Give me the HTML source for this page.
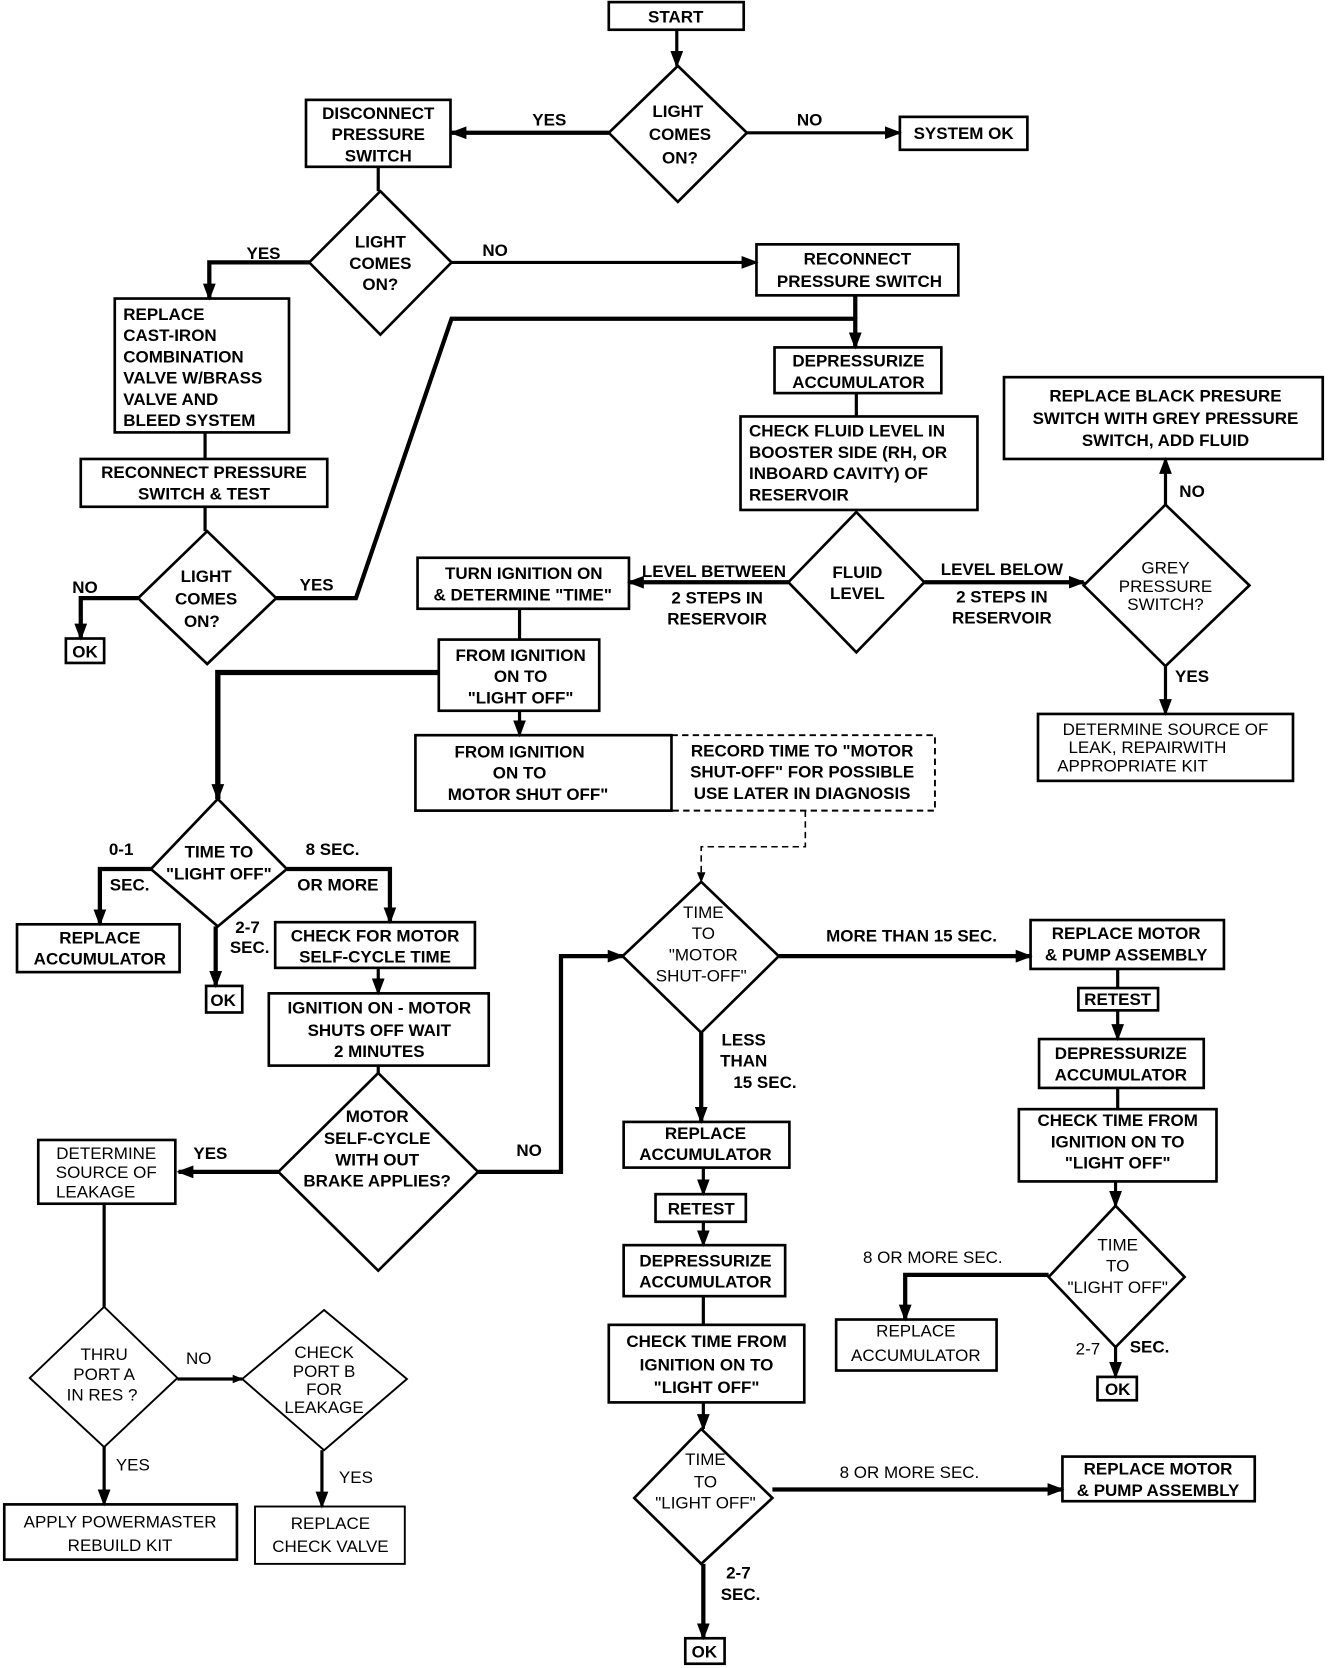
<!DOCTYPE html>
<html><head><meta charset="utf-8"><style>
html,body{margin:0;padding:0;background:#fff;}
svg{display:block;}
text{font-family:"Liberation Sans",sans-serif;font-weight:bold;font-size:16px;fill:#000;text-anchor:middle;}
.l{text-anchor:start;}
.n{font-weight:normal;}
</style></head><body>
<svg width="1344" height="1668" viewBox="0 0 1265 1570" xmlns="http://www.w3.org/2000/svg">
<defs>
<marker id="a" markerWidth="10" markerHeight="10" refX="9" refY="5" orient="auto" markerUnits="userSpaceOnUse" viewBox="0 0 10 10">
<path d="M0,1 L10,5 L0,9 Z" fill="#000"/></marker>
<marker id="b" markerWidth="16" markerHeight="16" refX="14" refY="8" orient="auto" markerUnits="userSpaceOnUse" viewBox="0 0 16 16">
<path d="M0,2 L16,8 L0,14 Z" fill="#000"/></marker>
</defs>
<g fill="none" stroke="#000" stroke-width="2.5">
<!-- boxes -->
<rect x="573" y="2" width="127" height="26"/>
<rect x="847" y="110" width="120" height="31"/>
<rect x="288" y="94" width="136" height="63"/>
<rect x="712" y="230" width="190" height="48"/>
<rect x="108" y="281" width="164" height="126"/>
<rect x="76" y="432" width="232" height="45"/>
<rect x="62" y="601" width="36" height="23"/>
<rect x="729" y="327" width="157" height="43"/>
<rect x="697" y="392" width="223" height="88"/>
<rect x="945" y="355" width="300" height="77"/>
<rect x="977" y="672" width="240" height="63"/>
<rect x="393" y="525" width="199" height="48"/>
<rect x="413" y="602" width="151" height="67"/>
<rect x="391" y="692" width="241" height="71"/>
<rect x="632" y="692" width="248" height="71" stroke-dasharray="6,4" stroke-width="1.8"/>
<rect x="16" y="870" width="153" height="45"/>
<rect x="194" y="928" width="34" height="25"/>
<rect x="259" y="868" width="188" height="43"/>
<rect x="253" y="935" width="207" height="68"/>
<rect x="36" y="1073" width="129" height="60"/>
<rect x="970" y="866" width="182" height="46"/>
<rect x="1015" y="930" width="75" height="21"/>
<rect x="978" y="978" width="155" height="46"/>
<rect x="959" y="1044" width="186" height="68"/>
<rect x="787" y="1242" width="151" height="48"/>
<rect x="1033" y="1296" width="37" height="22"/>
<rect x="587" y="1056" width="156" height="43"/>
<rect x="617" y="1124" width="85" height="26"/>
<rect x="587" y="1172" width="152" height="48"/>
<rect x="573" y="1247" width="184" height="73"/>
<rect x="1000" y="1371" width="181" height="42"/>
<rect x="645" y="1542" width="37" height="24"/>
<rect x="4" y="1416" width="219" height="52"/>
<rect x="240" y="1418" width="141" height="54" stroke-width="1.8"/>
<!-- diamonds -->
<path d="M638,62 L703,125 L638,190 L573,125 Z"/>
<path d="M358,180 L425,247 L358,315 L291,247 Z"/>
<path d="M195,500 L260,563 L195,625 L130,563 Z"/>
<path d="M806,482 L870,548 L806,614 L742,548 Z"/>
<path d="M1097,475 L1176,551 L1097,627 L1020,551 Z"/>
<path d="M205,752 L270,818 L205,872 L142,818 Z"/>
<path d="M356,1010 L450,1103 L356,1196 L262,1103 Z"/>
<path d="M660,830 L733,900 L660,972 L586,900 Z"/>
<path d="M1050,1135 L1115,1202 L1050,1268 L987,1202 Z"/>
<path d="M660,1345 L727,1410 L660,1472 L597,1410 Z"/>
<path d="M98,1230 L167,1297 L98,1362 L28,1297 Z" stroke-width="1.8"/>
<path d="M305,1233 L383,1298 L305,1365 L228,1298 Z" stroke-width="1.8"/>
</g>
<!-- connectors -->
<g fill="none" stroke="#000" stroke-width="3">
<path d="M637,28 V62" marker-end="url(#b)"/>
<path d="M573,125 H425" stroke-width="4" marker-end="url(#b)"/>
<path d="M703,125 H847" marker-end="url(#b)"/>
<path d="M356,157 V180"/>
<path d="M291,247 H197 V281" stroke-width="4" marker-end="url(#b)"/>
<path d="M425,247 H712" marker-end="url(#b)"/>
<path d="M193,407 V432"/>
<path d="M193,477 V500"/>
<path d="M130,563 H76 V601" stroke-width="4" marker-end="url(#b)"/>
<path d="M260,563 H335 L425,300 H805 V327" stroke-width="4" marker-end="url(#b)"/>
<path d="M805,278 V300" stroke-width="4"/>
<path d="M806,370 V392"/>
<path d="M742,548 H592" stroke-width="4" marker-end="url(#b)"/>
<path d="M870,548 H1020" stroke-width="4" marker-end="url(#b)"/>
<path d="M1097,475 V432" marker-end="url(#b)"/>
<path d="M1097,627 V672" marker-end="url(#b)"/>
<path d="M489,573 V602"/>
<path d="M489,669 V692" marker-end="url(#b)"/>
<path d="M413,633 H205 V752" stroke-width="5" marker-end="url(#b)"/>
<path d="M142,818 H94 V870" stroke-width="4" marker-end="url(#b)"/>
<path d="M203,872 V928" stroke-width="4" marker-end="url(#b)"/>
<path d="M270,818 H367 V868" stroke-width="4" marker-end="url(#b)"/>
<path d="M356,911 V935" marker-end="url(#b)"/>
<path d="M356,1003 V1010"/>
<path d="M262,1103 H168" stroke-width="4" marker-end="url(#b)"/>
<path d="M450,1103 H528 V900 H586" stroke-width="4" marker-end="url(#b)"/>
<path d="M758,763 V797 H660 V830" stroke-width="1.5" stroke-dasharray="6,4" marker-end="url(#a)"/>
<path d="M733,900 H970" stroke-width="4" marker-end="url(#b)"/>
<path d="M1052,912 V930"/>
<path d="M1052,951 V978" marker-end="url(#b)"/>
<path d="M1052,1024 V1044"/>
<path d="M1050,1112 V1135" marker-end="url(#b)"/>
<path d="M987,1200 H852 V1242" stroke-width="4" marker-end="url(#b)"/>
<path d="M1050,1268 V1296" marker-end="url(#b)"/>
<path d="M660,972 V1056" stroke-width="4" marker-end="url(#b)"/>
<path d="M662,1099 V1124" marker-end="url(#b)"/>
<path d="M662,1150 V1172" marker-end="url(#b)"/>
<path d="M662,1220 V1247"/>
<path d="M662,1320 V1345" marker-end="url(#b)"/>
<path d="M727,1402 H1000" stroke-width="4" marker-end="url(#b)"/>
<path d="M662,1472 V1542" stroke-width="4" marker-end="url(#b)"/>
<path d="M98,1133 V1230"/>
<path d="M167,1298 H228" marker-end="url(#a)"/>
<path d="M98,1362 V1416" marker-end="url(#b)"/>
<path d="M303,1365 V1418" marker-end="url(#b)"/>
</g>
<!-- text -->
<text x="636" y="21">START</text>
<text x="907" y="131">SYSTEM OK</text>
<text x="638" y="110">LIGHT</text><text x="640" y="132">COMES</text><text x="640" y="154">ON?</text>
<text x="517" y="118">YES</text><text x="762" y="118">NO</text>
<text x="356" y="112">DISCONNECT</text><text x="356" y="132">PRESSURE</text><text x="356" y="152">SWITCH</text>
<text x="358" y="233">LIGHT</text><text x="358" y="253">COMES</text><text x="358" y="273">ON?</text>
<text x="248" y="244">YES</text><text x="466" y="241">NO</text>
<text x="807" y="249">RECONNECT</text><text x="809" y="270">PRESSURE SWITCH</text>
<text class="l" x="116" y="301">REPLACE</text><text class="l" x="116" y="321">CAST-IRON</text><text class="l" x="116" y="341">COMBINATION</text><text class="l" x="116" y="361">VALVE W/BRASS</text><text class="l" x="116" y="381">VALVE AND</text><text class="l" x="116" y="401">BLEED SYSTEM</text>
<text x="192" y="450">RECONNECT PRESSURE</text><text x="192" y="470">SWITCH &amp; TEST</text>
<text x="194" y="548">LIGHT</text><text x="194" y="569">COMES</text><text x="190" y="590">ON?</text>
<text x="80" y="558">NO</text><text x="298" y="556">YES</text>
<text x="80" y="619">OK</text>
<text x="808" y="345">DEPRESSURIZE</text><text x="808" y="365">ACCUMULATOR</text>
<text class="l" x="705" y="411">CHECK FLUID LEVEL IN</text><text class="l" x="705" y="431">BOOSTER SIDE (RH, OR</text><text class="l" x="705" y="451">INBOARD CAVITY) OF</text><text class="l" x="705" y="471">RESERVOIR</text>
<text x="1097" y="378">REPLACE BLACK PRESURE</text><text x="1097" y="399">SWITCH WITH GREY PRESSURE</text><text x="1097" y="420">SWITCH, ADD FLUID</text>
<text x="1122" y="468">NO</text>
<text x="807" y="544">FLUID</text><text x="807" y="564">LEVEL</text>
<text x="672" y="543">LEVEL BETWEEN</text><text x="675" y="568">2 STEPS IN</text><text x="675" y="588">RESERVOIR</text>
<text x="943" y="541">LEVEL BELOW</text><text x="943" y="567">2 STEPS IN</text><text x="943" y="587">RESERVOIR</text>
<text x="1097" y="540" class="n">GREY</text><text x="1097" y="557" class="n">PRESSURE</text><text x="1097" y="574" class="n">SWITCH?</text>
<text x="1122" y="642">YES</text>
<text x="1097" y="692" class="n">DETERMINE SOURCE OF</text><text x="1080" y="709" class="n">LEAK, REPAIRWITH</text><text x="1066" y="726" class="n">APPROPRIATE KIT</text>
<text x="493" y="545">TURN IGNITION ON</text><text x="492" y="565">&amp; DETERMINE "TIME"</text>
<text x="490" y="622">FROM IGNITION</text><text x="490" y="642">ON TO</text><text x="490" y="662">"LIGHT OFF"</text>
<text x="489" y="713">FROM IGNITION</text><text x="489" y="733">ON TO</text><text x="497" y="753">MOTOR SHUT OFF"</text>
<text x="755" y="712">RECORD TIME TO "MOTOR</text><text x="755" y="732">SHUT-OFF" FOR POSSIBLE</text><text x="755" y="752">USE LATER IN DIAGNOSIS</text>
<text x="206" y="807">TIME TO</text><text x="206" y="828">"LIGHT OFF"</text>
<text x="114" y="805">0-1</text><text x="122" y="838">SEC.</text>
<text x="313" y="805">8 SEC.</text><text x="318" y="838">OR MORE</text>
<text x="233" y="878">2-7</text><text x="235" y="897">SEC.</text>
<text x="94" y="888">REPLACE</text><text x="94" y="908">ACCUMULATOR</text>
<text x="210" y="947">OK</text>
<text x="353" y="886">CHECK FOR MOTOR</text><text x="353" y="906">SELF-CYCLE TIME</text>
<text x="357" y="954">IGNITION ON - MOTOR</text><text x="357" y="975">SHUTS OFF WAIT</text><text x="357" y="995">2 MINUTES</text>
<text x="355" y="1056">MOTOR</text><text x="355" y="1077">SELF-CYCLE</text><text x="355" y="1097">WITH OUT</text><text x="355" y="1117">BRAKE APPLIES?</text>
<text x="198" y="1091">YES</text><text x="498" y="1088">NO</text>
<text x="100" y="1091" class="n">DETERMINE</text><text x="100" y="1109" class="n">SOURCE OF</text><text x="90" y="1127" class="n">LEAKAGE</text>
<text x="662" y="864" class="n">TIME</text><text x="662" y="884" class="n">TO</text><text x="662" y="904" class="n">"MOTOR</text><text x="660" y="924" class="n">SHUT-OFF"</text>
<text x="858" y="886">MORE THAN 15 SEC.</text>
<text x="700" y="984">LESS</text><text x="700" y="1004">THAN</text><text x="720" y="1024">15 SEC.</text>
<text x="1060" y="884">REPLACE MOTOR</text><text x="1060" y="904">&amp; PUMP ASSEMBLY</text>
<text x="1052" y="946">RETEST</text>
<text x="1055" y="997">DEPRESSURIZE</text><text x="1055" y="1017">ACCUMULATOR</text>
<text x="1052" y="1060">CHECK TIME FROM</text><text x="1052" y="1080">IGNITION ON TO</text><text x="1052" y="1100">"LIGHT OFF"</text>
<text x="1052" y="1177" class="n">TIME</text><text x="1052" y="1197" class="n">TO</text><text x="1052" y="1217" class="n">"LIGHT OFF"</text>
<text x="878" y="1189" class="n">8 OR MORE SEC.</text>
<text x="862" y="1258" class="n">REPLACE</text><text x="862" y="1281" class="n">ACCUMULATOR</text>
<text x="1024" y="1275" class="n">2-7</text><text x="1082" y="1273">SEC.</text>
<text x="1052" y="1313">OK</text>
<text x="664" y="1072">REPLACE</text><text x="664" y="1092">ACCUMULATOR</text>
<text x="660" y="1143">RETEST</text>
<text x="664" y="1192">DEPRESSURIZE</text><text x="664" y="1212">ACCUMULATOR</text>
<text x="665" y="1268">CHECK TIME FROM</text><text x="665" y="1290">IGNITION ON TO</text><text x="665" y="1311">"LIGHT OFF"</text>
<text x="664" y="1379" class="n">TIME</text><text x="664" y="1400" class="n">TO</text><text x="664" y="1420" class="n">"LIGHT OFF"</text>
<text x="856" y="1391" class="n">8 OR MORE SEC.</text>
<text x="1090" y="1388">REPLACE MOTOR</text><text x="1090" y="1408">&amp; PUMP ASSEMBLY</text>
<text x="695" y="1486">2-7</text><text x="697" y="1506">SEC.</text>
<text x="663" y="1560">OK</text>
<text x="98" y="1280" class="n">THRU</text><text x="98" y="1299" class="n">PORT A</text><text x="96" y="1318" class="n">IN RES ?</text>
<text x="187" y="1284" class="n">NO</text>
<text x="305" y="1278" class="n">CHECK</text><text x="305" y="1296" class="n">PORT B</text><text x="305" y="1313" class="n">FOR</text><text x="305" y="1330" class="n">LEAKAGE</text>
<text x="125" y="1384" class="n">YES</text><text x="335" y="1396" class="n">YES</text>
<text x="113" y="1438" class="n">APPLY POWERMASTER</text><text x="113" y="1460" class="n">REBUILD KIT</text>
<text x="311" y="1439" class="n">REPLACE</text><text x="311" y="1461" class="n">CHECK VALVE</text>
</svg>
</body></html>
